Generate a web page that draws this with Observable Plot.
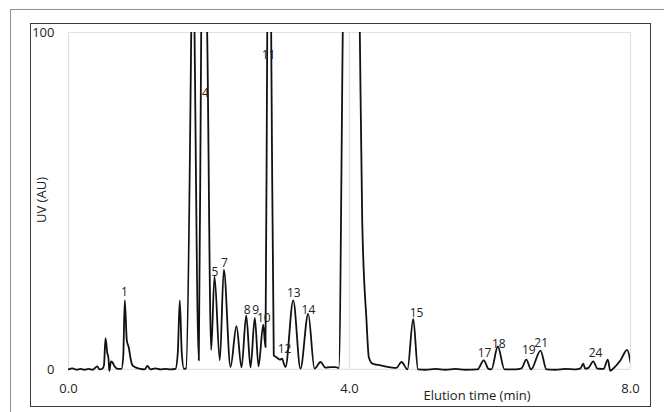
<!DOCTYPE html>
<html>
<head>
<meta charset="utf-8">
<script src="https://cdn.jsdelivr.net/npm/d3@7"></script>
<script src="https://cdn.jsdelivr.net/npm/@observablehq/plot@0.6"></script>
<style>
  body { margin: 0; background: #fff; }
  #wrap { position: relative; width: 664px; height: 412px; overflow: hidden; background: #fff; font-family: "Open Sans", sans-serif; }
  .outer { position: absolute; left: 10px; top: 9px; width: 720px; height: 460px; border-left: 1.5px solid #8a949f; border-top: 1.5px solid #8a949f; }
  .inner { position: absolute; left: 29.5px; top: 22.5px; width: 619px; height: 382px; border: 1px solid #3a3a3a; }
  #chart { position: absolute; left: 0; top: 0; }
  .xt { position: absolute; left: 377px; width: 200px; top: 386px; text-align: center; font-size: 13px; color: #222; }
  .yt { position: absolute; left: -59px; width: 200px; top: 191px; text-align: center; font-size: 13px; color: #222; transform: rotate(-90deg); }
</style>
</head>
<body>
<div id="wrap">
  <div class="outer"></div>
  <div class="inner"></div>
  <div id="chart"></div>
  <div class="xt">Elution time (min)</div>
  <div class="yt">UV (AU)</div>
</div>
<script>
// Elution time (min) of each read point of the trace
const times = [
  0.000, 0.057, 0.114, 0.171, 0.228, 0.285, 0.342, 0.409, 0.441, 0.484,
  0.505, 0.527, 0.551, 0.569, 0.581, 0.605, 0.626, 0.655, 0.698, 0.754,
  0.780, 0.801, 0.830, 0.858, 0.883, 0.911, 0.954, 1.025, 1.082, 1.125,
  1.167, 1.238, 1.310, 1.381, 1.452, 1.523, 1.556, 1.584, 1.612, 1.644,
  1.673, 1.747, 1.769, 1.794, 1.855, 1.889, 1.932, 1.974, 2.031, 2.078,
  2.154, 2.211, 2.306, 2.391, 2.463, 2.530, 2.591, 2.652, 2.705, 2.772,
  2.804, 2.829, 2.857, 2.885, 2.922, 2.961, 3.008, 3.042, 3.060, 3.089,
  3.199, 3.302, 3.412, 3.502, 3.587, 3.658, 3.730, 3.801, 3.848, 3.904,
  4.021, 4.147, 4.181, 4.242, 4.275, 4.327, 4.441, 4.584, 4.669, 4.740,
  4.825, 4.907, 4.975, 5.082, 5.224, 5.367, 5.509, 5.651, 5.822, 5.911,
  5.979, 6.021, 6.111, 6.206, 6.363, 6.448, 6.517, 6.584, 6.719, 6.804,
  6.932, 7.075, 7.217, 7.288, 7.327, 7.356, 7.402, 7.469, 7.530, 7.616,
  7.677, 7.712, 7.772, 7.858, 7.953, 8.000
];
// UV (AU) read at each of those times
const uv = [
  0.0, 0.3, -0.1, 0.15, -0.1, 0.15, -0.1, 0.9, 0.0, 0.3,
  1.2, 9.3, 5.0, 3.3, -0.45, 2.4, 2.1, 0.9, 0.15, 0.15,
  4.2, 20.5, 8.6, 6.5, 3.3, 1.2, 0.6, 0.15, 0.0, 1.0,
  0.0, 0.3, 0.0, 0.15, 0.0, 0.15, 5.0, 20.5, 5.0, 0.15,
  0.3, 100, 150, 100, 2.7, 100, 140, 100, 5.8, 27.6,
  2.7, 29.6, 0.7, 12.8, 0.6, 16.0, 0.6, 15.3, 0.9, 13.3,
  6.6, 100, 140, 100, 4.2, 3.6, 2.9, 3.2, 2.1, 0.7,
  20.5, 0.2, 16.5, 0.2, 2.2, 0.5, 0.7, 0.7, 0.4, 100,
  350, 100, 44.2, 14.5, 3.6, 1.7, 1.2, 0.6, 0.45, 2.2,
  0.0, 15.0, 0.0, -0.1, 0.15, -0.1, 0.15, -0.1, 0.0, 2.7,
  0.15, 0.0, 6.8, 0.0, 0.0, 0.3, 2.9, 0.0, 5.6, 0.0,
  -0.1, 0.15, 0.0, 0.3, 1.7, 0.2, 0.45, 2.4, 0.2, 0.15,
  2.9, -0.4, 0.6, 2.7, 5.8, 2.1
];
// Peak labels
const peakNames = ["1", "4", "5", "7", "8", "9", "10", "11", "12", "13", "14", "15", "17", "18", "19", "21", "24"];
const peakLabelTimes = [0.797, 1.950, 2.083, 2.221, 2.544, 2.666, 2.780, 2.847, 3.075, 3.207, 3.416, 4.954, 5.922, 6.125, 6.552, 6.729, 7.502];
const peakLabelUV = [22.9, 81.9, 28.9, 31.5, 17.5, 17.5, 15.1, 93.2, 6.1, 22.5, 17.5, 16.8, 4.8, 7.6, 5.6, 7.8, 4.7];
// Axis ticks
const xTicks = [0, 4, 8];
const yTicks = [0, 100];

const trace = times.map((t, i) => ({t, v: uv[i]}));
const labels = peakNames.map((name, i) => ({name, t: peakLabelTimes[i], v: peakLabelUV[i]}));

const chart = Plot.plot({
  width: 664,
  height: 412,
  marginLeft: 68,
  marginRight: 34,
  marginTop: 32,
  marginBottom: 33,
  x: {domain: [0, 8], ticks: xTicks, tickFormat: d => d.toFixed(1), tickSize: 0, tickPadding: 4, label: null},
  y: {domain: [-3, 100], ticks: yTicks, tickSize: 0, tickPadding: 14, label: null},
  style: {fontFamily: "Open Sans", fontSize: "13px", color: "#222", background: "transparent", overflow: "visible"},
  marks: [
    Plot.ruleX(xTicks, {y1: 0, y2: 100, stroke: "#e2e2e2", strokeWidth: 1.2}),
    Plot.ruleY(yTicks, {stroke: "#e2e2e2", strokeWidth: 1.2}),
    Plot.line(trace, {x: "t", y: "v", curve: "monotone-x", stroke: "#111", strokeWidth: 1.8, clip: true}),
    Plot.text(labels, {x: "t", y: "v", text: "name", fontSize: 12, fill: "#222"})
  ]
});
document.getElementById("chart").appendChild(chart);
</script>
</body>
</html>
